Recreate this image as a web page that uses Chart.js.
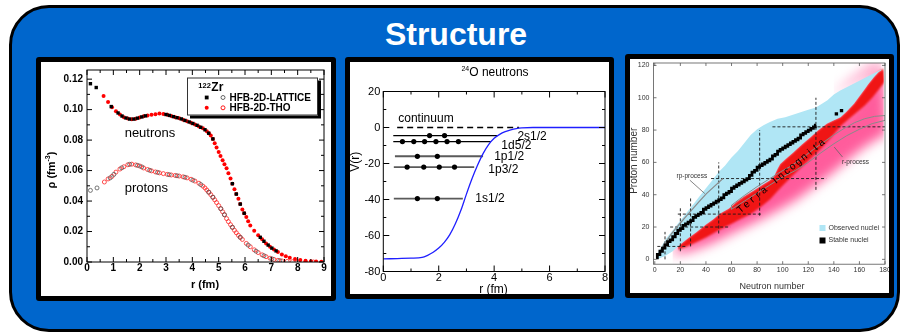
<!DOCTYPE html>
<html><head><meta charset="utf-8">
<script src="https://cdn.jsdelivr.net/npm/chart.js@4.4.1/dist/chart.umd.min.js"></script>
<style>
html,body{margin:0;padding:0;background:#fff;}
body{width:904px;height:334px;position:relative;overflow:hidden;font-family:'Liberation Sans',Arial,sans-serif;}
#slide{position:absolute;left:9px;top:5px;width:891px;height:327px;box-sizing:border-box;border:3px solid #000;border-radius:40px;background:#0066cc;}
#title{position:absolute;left:0;top:18px;width:912px;text-align:center;color:#fff;font:bold 32px/32px 'Liberation Sans',Arial,sans-serif;}
.panel{position:absolute;box-sizing:border-box;border:5px solid #000;background:#fff;border-radius:3px;}
.panel canvas{display:block;}
</style></head><body>
<div id="slide"></div>
<div id="title">Structure</div>
<div class="panel" style="left:36px;top:57px;width:300px;height:244px"><canvas id="c1" width="290" height="234"></canvas></div>
<div class="panel" style="left:345px;top:57px;width:269px;height:242px"><canvas id="c2" width="259" height="232"></canvas></div>
<div class="panel" style="left:625px;top:54px;width:269px;height:244px"><canvas id="c3" width="259" height="234"></canvas></div>
<script>
const FONT = "'Liberation Sans', Arial, Helvetica, sans-serif";
Chart.defaults.font.family = FONT;
Chart.defaults.color = '#000';
Chart.defaults.animation = false;
Chart.defaults.events = [];
Chart.defaults.plugins.legend.display = false;
Chart.defaults.plugins.tooltip.enabled = false;

// ================= Panel 1 : 122Zr densities =================
const P1_X_TICKS = [0,1,2,3,4,5,6,7,8,9];
const P1_X_LABELS = ['0','1','2','3','4','5','6','7','8','9'];
const P1_X_MINOR = [0.5,1.5,2.5,3.5,4.5,5.5,6.5,7.5,8.5];
const P1_Y_TICKS = [0,0.02,0.04,0.06,0.08,0.10,0.12];
const P1_Y_LABELS = ['0.00','0.02','0.04','0.06','0.08','0.10','0.12'];
const P1_Y_MINOR = [0.01,0.03,0.05,0.07,0.09,0.11];
const P1_LEGEND = ['HFB-2D-LATTICE','HFB-2D-THO'];

const NEUT_LATTICE = [[0.13,.1170],[0.35,.1145],[0.92,.1020],[1.18,.0978],[1.33,.0958],[1.48,.0945],[1.62,.0938],[1.78,.0938],[1.92,.0944],[2.08,.0952],[2.22,.0959],[3.00,.0968],[3.13,.0962],[3.28,.0954],[3.42,.0947],[3.58,.0939],[3.72,.0929],[3.88,.0919],[4.02,.0909],[4.18,.0897],[4.32,.0884],[4.48,.0868],[4.62,.0845],[4.78,.0808],[5.52,.0514],[5.67,.0446],[5.82,.0380],[5.97,.0320],[6.58,.0162],[6.72,.0136],[6.88,.0111],[7.02,.0091],[7.18,.0073]];
const NEUT_THO = [[0.63,.1090],[0.80,.1050],[0.95,.1015],[1.10,.0990],[1.25,.0968],[1.40,.0950],[1.55,.0941],[1.70,.0937],[1.85,.0940],[2.00,.0948],[2.15,.0956],[2.30,.0962],[2.45,.0966],[2.60,.0970],[2.75,.0974],[2.90,.0972],[3.05,.0966],[3.20,.0958],[3.35,.0950],[3.50,.0943],[3.65,.0934],[3.80,.0924],[3.95,.0914],[4.10,.0903],[4.25,.0890],[4.40,.0877],[4.55,.0858],[4.63,.0845],[4.70,.0830],[4.78,.0808],[4.85,.0780],[4.92,.0752],[5.00,.0722],[5.07,.0695],[5.15,.0668],[5.22,.0642],[5.30,.0615],[5.37,.0583],[5.45,.0548],[5.52,.0514],[5.60,.0478],[5.67,.0446],[5.75,.0415],[5.82,.0380],[5.90,.0345],[5.97,.0320],[6.05,.0295],[6.12,.0268],[6.20,.0240],[6.35,.0205],[6.50,.0175],[6.65,.0150],[6.80,.0122],[6.95,.0100],[7.10,.0082],[7.25,.0065],[7.40,.0050],[7.55,.0038],[7.70,.0028],[7.90,.0019],[8.10,.0013],[8.30,.0009],[8.50,.0005],[8.70,.0003],[8.90,.0002]];
const PROT_LATTICE = [[0.13,.0470],[0.38,.0486],[0.88,.0552],[1.02,.0575],[1.32,.0618],[1.62,.0641],[1.92,.0634],[2.08,.0624],[2.38,.0602],[2.68,.0588],[3.12,.0573],[3.42,.0566],[3.72,.0556],[4.02,.0537],[4.32,.0508],[4.62,.0458],[4.78,.0425],[5.08,.0350],[5.22,.0310],[5.52,.0228],[5.82,.0162],[6.12,.0111],[6.42,.0071],[6.72,.0041],[7.02,.0021],[7.32,.0009]];
const PROT_THO = [[0.66,.0525],[0.80,.0545],[0.95,.0562],[1.10,.0590],[1.25,.0610],[1.40,.0625],[1.55,.0638],[1.70,.0642],[1.85,.0637],[2.00,.0630],[2.15,.0617],[2.30,.0607],[2.45,.0598],[2.60,.0591],[2.75,.0585],[2.90,.0580],[3.05,.0575],[3.20,.0571],[3.35,.0568],[3.50,.0564],[3.65,.0559],[3.80,.0552],[3.95,.0543],[4.10,.0531],[4.25,.0517],[4.40,.0498],[4.48,.0486],[4.55,.0472],[4.63,.0458],[4.70,.0442],[4.78,.0425],[4.85,.0408],[4.92,.0390],[5.00,.0370],[5.08,.0350],[5.15,.0330],[5.22,.0310],[5.30,.0285],[5.37,.0265],[5.45,.0245],[5.52,.0228],[5.60,.0208],[5.67,.0192],[5.75,.0175],[5.82,.0162],[5.90,.0148],[6.05,.0122],[6.20,.0100],[6.35,.0080],[6.50,.0062],[6.65,.0047],[6.80,.0035],[6.95,.0025],[7.10,.0017],[7.25,.0011],[7.40,.0007],[7.60,.0004],[7.80,.0002],[8.00,.0001],[8.30,.0000],[8.60,.0000]];

// ================= Panel 2 : 24O neutrons =================
const P2_X_TICKS = [0,2,4,6,8];
const P2_X_LABELS = ['0','2','4','6','8'];
const P2_X_MINOR = [1,3,5,7];
const P2_Y_TICKS = [-80,-60,-40,-20,0,20];
const P2_Y_LABELS = ['-80','-60','-40','-20','0','20'];
const P2_Y_MINOR = [-70,-50,-30,-10,10];
const POT_R = [0,0.5,1.0,1.4,1.6,1.8,2.0,2.2,2.4,2.6,2.8,3.0,3.2,3.4,3.6,3.8,4.0,4.2,4.4,4.6,4.8,5.0,5.4,6,7,8];
const POT_V = [-73.0,-72.8,-72.6,-72.2,-71.0,-69.3,-67.0,-63.8,-59.5,-53.5,-46.0,-37.0,-28.5,-21.0,-14.5,-9.5,-6.0,-3.8,-2.3,-1.3,-0.6,-0.25,0,0,0,0];
const LEVEL_NAMES = ['2s1/2','1d5/2','1p1/2','1p3/2','1s1/2'];
const LEVEL_E = [-4.5,-7.8,-16,-22,-39.5];
const LEVEL_R0 = [0.36,0.36,0.42,0.38,0.38];
const LEVEL_R1 = [4.12,3.88,3.6,3.28,2.87];
const LEVEL_DOTS = [[1.67,2.21],[0.69,1.1,1.49,1.9,2.3,2.71],[1.23,1.95],[0.86,1.46,2.02,2.57],[1.23,1.95]];
const CONTINUUM_E = 0;
const CONTINUUM_R = [0.5,4.9];

// ================= Panel 3 : chart of nuclides =================
const P3_X_TICKS = [0,20,40,60,80,100,120,140,160,180];
const P3_X_LABELS = ['0','20','40','60','80','100','120','140','160','180'];
const P3_Y_TICKS = [0,20,40,60,80,100,120];
const P3_Y_LABELS = ['0','20','40','60','80','100','120'];
const OBS_UPPER = [[0,0],[3,5],[9,13],[14,18],[20,24],[25,29],[30,34],[35,39],[40,44],[45,49],[50,54],[55,58],[60,63],[65,67],[70,72],[75,77],[80,80.5],[85,83],[90,85],[96,87],[102,88],[108,89.5],[114,91],[120,92.5],[126,94],[131,96.5],[135,98.5],[140,102],[145,104.5],[150,106.5],[155,108.5],[160,110.5],[166,113],[171,115],[177,117.5]];
const OBS_LOWER = [[2,0],[8,2],[14,5],[19.6,9],[26,13],[32.7,17],[40,21.5],[46,25],[51,28.4],[58,31.5],[64,35.6],[70,39],[77,42.5],[84,46],[90,49],[93,51],[96,56],[98,59],[103,62.5],[108,66],[115,71],[121.7,75.5],[128,80],[134.7,84],[140,86],[145.2,88],[150,91.5],[155.7,96.3],[160,101],[163.5,104.6],[167,108.5],[171.4,112.8],[175,116],[179,118]];
const RED_EDGE = [[18,6],[25,8],[32,10.5],[40,13.5],[51,18.5],[60,22],[67,25],[75,28],[82,32],[90,37],[98,44],[106,50.5],[114,56.5],[122,62.5],[130,68.5],[138,75.5],[146,83],[152,87],[158,91],[164,95],[170,100],[175,105],[180,110]];
const PINK_EDGE = [[14,3],[20,3.5],[30,5.5],[45,10],[59,15.5],[72,20.5],[85,25.5],[98,31],[111,37],[123,44],[135,51],[145,57.5],[155,64],[165,70],[175,75],[182,78]];
const PINK_TIP = [[140,103],[146,107],[152,111],[158,114.5],[164,118],[169,121.5],[178,121.5]];
const STABLE = [[1,1],[3,3],[5,5],[7,7],[9,9],[11,11],[13,12],[15,14],[17,16],[19,18],[21,19],[23,21],[25,22],[27,23],[29,24],[31,26],[33,27],[35,28],[37,29],[39,31],[41,32],[43,33],[45,34],[47,35],[49,36],[51,37],[53,38],[55,40],[57,41],[59,42],[61,44],[63,45],[65,46],[67,47],[69,48],[71,49],[73,50],[75,52],[77,54],[79,55],[81,57],[83,58],[85,59],[87,60],[89,61],[91,62],[93,64],[95,65],[97,67],[99,68],[101,69],[103,70],[105,71],[107,72],[109,73],[111,74],[113,75],[115,77],[117,78],[119,79],[121,80],[123,81],[125,82],[126,83]];
const STABLE_HEAVY = [[142,90],[146,92]];
const RP_PATH = [[4,5],[8,10],[13.2,16],[20,22.5],[25,27],[30,31.5],[35,36],[40.4,40.7],[47,45.5],[53.3,50]];
const RP_LEADER = [[27.4,49],[39.1,40.7]];
const R_PATH = [[60,31],[70,36],[80,41],[90,46],[100,51],[110,55],[120,60],[130,66],[140,71.5],[150,76.5],[160,80.5],[170,84],[180,86],[180,89],[172,88.5],[164,87],[156,84.5],[148,81],[140,77],[132,72.5],[124,68],[115,62.5],[106,57.5],[98,54],[90,50],[80,45],[70,39.5],[60,33.5],[60,31]];
const R_LEADER = [[140.3,69.5],[146.8,63.3]];
const MAGIC_LINES = [[[2,8],[24,8]],[[8,0],[8,17]],[[12,20],[59,20]],[[20,5],[20,32]],[[18,28],[84,28]],[[28,8],[28,38]],[[44,50],[134,50]],[[50,16],[50,60]],[[82,27],[82,80]],[[92,82],[180,82]],[[126,43],[126,100]]];
const P3_LEGEND = ['Observed nuclei','Stable nuclei'];

// ================= helpers =================
const pts = arr => arr.map(p => ({x: p[0], y: p[1]}));
const zip = (a, b) => a.map((v, i) => [v, b[i]]);
const TRANSP = 'rgba(0,0,0,0)';

function mkAxis(o) {
  return {
    type: 'linear', min: o.min, max: o.max,
    afterBuildTicks: s => { s.ticks = o.ticks.map(v => ({value: v})); },
    afterFit: s => {
      if (o.horizontal) s.height = o.size; else s.width = o.size;
      s.paddingLeft = 0; s.paddingRight = 0; s.paddingTop = 0; s.paddingBottom = 0;
    },
    grid: {display: false, drawTicks: false},
    border: {display: false},
    title: {display: false},
    ticks: {autoSkip: false, maxRotation: 0, minRotation: 0, padding: o.padding,
            font: o.font, color: o.color || '#000', callback: (v, i) => o.labels[i]}
  };
}

function framePlugin(c) {
  return {
    id: 'frameTicks',
    afterDatasetsDraw(chart) {
      const {ctx, chartArea: a, scales: {x, y}} = chart;
      ctx.save();
      ctx.strokeStyle = c.color; ctx.lineWidth = c.width;
      ctx.beginPath();
      const xs = (vals, len) => vals.forEach(v => {
        const p = x.getPixelForValue(v);
        ctx.moveTo(p, a.bottom); ctx.lineTo(p, a.bottom - len);
        ctx.moveTo(p, a.top); ctx.lineTo(p, a.top + len);
      });
      const ys = (vals, len) => vals.forEach(v => {
        const p = y.getPixelForValue(v);
        ctx.moveTo(a.left, p); ctx.lineTo(a.left + len, p);
        ctx.moveTo(a.right, p); ctx.lineTo(a.right - len, p);
      });
      xs(c.xMajor, c.major); xs(c.xMinor || [], c.minor);
      ys(c.yMajor, c.major); ys(c.yMinor || [], c.minor);
      ctx.stroke();
      ctx.strokeRect(a.left, a.top, a.right - a.left, a.bottom - a.top);
      ctx.restore();
    }
  };
}

function rich(ctx, parts, cx, cy, rot) {
  ctx.save();
  ctx.translate(cx, cy); ctx.rotate(rot || 0);
  let w = 0;
  parts.forEach(p => { ctx.font = p.f; p.w = ctx.measureText(p.t).width; w += p.w; });
  let xx = -w / 2;
  ctx.textAlign = 'left'; ctx.textBaseline = 'alphabetic';
  parts.forEach(p => { ctx.font = p.f; ctx.fillText(p.t, xx, p.dy || 0); xx += p.w; });
  ctx.restore();
}

// ================= Chart 1 =================
const p1Text = {
  id: 'p1Text',
  afterDatasetsDraw(chart) {
    const {ctx, scales: {x, y}} = chart;
    ctx.save();
    ctx.fillStyle = '#000';
    ctx.font = `13px ${FONT}`; ctx.textAlign = 'left'; ctx.textBaseline = 'middle';
    ctx.fillText('neutrons', x.getPixelForValue(1.43), y.getPixelForValue(0.0844));
    ctx.fillText('protons', x.getPixelForValue(1.43), y.getPixelForValue(0.0482));
    ctx.font = `bold 11px ${FONT}`; ctx.textAlign = 'center';
    ctx.fillText('r (fm)', 164, 223);
    rich(ctx, [{t: '\u03c1 (fm', f: `bold 11px ${FONT}`}, {t: '-3', f: `bold 7px ${FONT}`, dy: -4.5}, {t: ')', f: `bold 11px ${FONT}`}], 13.6, 108, -Math.PI / 2);
    const L = {x: 146, y: 15.5, w: 131, h: 38};
    ctx.fillStyle = '#000'; ctx.fillRect(L.x + 3, L.y + 3, L.w, L.h);
    ctx.fillStyle = '#fff'; ctx.fillRect(L.x, L.y, L.w, L.h);
    ctx.strokeStyle = '#333'; ctx.lineWidth = 1; ctx.strokeRect(L.x + 0.5, L.y + 0.5, L.w - 1, L.h - 1);
    ctx.fillStyle = '#000'; ctx.textAlign = 'left'; ctx.textBaseline = 'alphabetic';
    ctx.font = `bold 7.5px ${FONT}`; ctx.fillText('122', 157.3, 26.3);
    const w122 = ctx.measureText('122').width;
    ctx.font = `bold 12px ${FONT}`; ctx.fillText('Zr', 157.3 + w122 + 0.5, 29);
    const rows = [{y: 35.5, fill: '#000', rect: true, open: '#555'}, {y: 45.8, fill: '#f00', rect: false, open: '#f00'}];
    rows.forEach((r, i) => {
      ctx.fillStyle = r.fill;
      if (r.rect) ctx.fillRect(163.8, r.y - 1.9, 3.8, 3.8);
      else { ctx.beginPath(); ctx.arc(165.7, r.y, 2, 0, Math.PI * 2); ctx.fill(); }
      ctx.strokeStyle = r.open; ctx.lineWidth = 0.9;
      ctx.beginPath(); ctx.arc(182, r.y, 2, 0, Math.PI * 2); ctx.stroke();
      ctx.fillStyle = '#000'; ctx.font = `bold 10px ${FONT}`; ctx.textBaseline = 'middle';
      ctx.fillText(P1_LEGEND[i], 188.5, r.y + 0.5);
    });
    ctx.restore();
  }
};

new Chart(document.getElementById('c1'), {
  type: 'line',
  data: {datasets: [
    {data: pts(NEUT_LATTICE), showLine: false, pointStyle: 'rect', pointRadius: 2.4, pointBackgroundColor: '#000', pointBorderColor: '#000', pointBorderWidth: 0, order: 1},
    {data: pts(PROT_LATTICE), showLine: false, pointStyle: 'circle', pointRadius: 2, pointBackgroundColor: TRANSP, pointBorderColor: '#555', pointBorderWidth: 0.8, order: 2},
    {data: pts(NEUT_THO), showLine: false, pointStyle: 'circle', pointRadius: 2, pointBackgroundColor: '#f00', pointBorderColor: '#f00', pointBorderWidth: 0, order: 3},
    {data: pts(PROT_THO), showLine: false, pointStyle: 'circle', pointRadius: 2, pointBackgroundColor: TRANSP, pointBorderColor: '#f22', pointBorderWidth: 0.8, order: 4}
  ]},
  options: {
    responsive: false, maintainAspectRatio: false,
    layout: {padding: {left: 0, top: 8, right: 7, bottom: 0}},
    scales: {
      x: mkAxis({min: 0, max: 9, ticks: P1_X_TICKS, labels: P1_X_LABELS, horizontal: true, size: 34, padding: 0, font: {size: 10, weight: 'bold'}}),
      y: mkAxis({min: 0, max: 0.126, ticks: P1_Y_TICKS, labels: P1_Y_LABELS, size: 46, padding: 4, font: {size: 10, weight: 'bold'}})
    }
  },
  plugins: [framePlugin({color: '#000', width: 1, major: 5, minor: 3, xMajor: P1_X_TICKS, xMinor: P1_X_MINOR, yMajor: P1_Y_TICKS, yMinor: P1_Y_MINOR}), p1Text]
});

// ================= Chart 2 =================
const ds2 = [];
ds2.push({data: pts(zip(POT_R, POT_V)), borderColor: '#1f1fff', borderWidth: 1.3, pointRadius: 0, cubicInterpolationMode: 'monotone', order: 1});
ds2.push({data: pts([[CONTINUUM_R[0], CONTINUUM_E], [CONTINUUM_R[1], CONTINUUM_E]]), borderColor: '#000', borderWidth: 1.3, borderDash: [6, 4], pointRadius: 0, order: 2});
LEVEL_E.forEach((e, i) => {
  const dark = i < 2;
  ds2.push({data: pts([[LEVEL_R0[i], e], [LEVEL_R1[i], e]]), borderColor: dark ? '#000' : '#5a5a5a', borderWidth: dark ? 1.3 : 1.9, pointRadius: 0, order: 3});
  ds2.push({data: pts(LEVEL_DOTS[i].map(r => [r, e])), showLine: false, pointRadius: 2.6, pointBackgroundColor: '#000', pointBorderColor: '#000', pointBorderWidth: 0, order: 2});
});
const LABEL_AT = [[4.84,-4.9],[4.26,-9.9],[4.0,-16],[3.79,-23.7],[3.32,-39.8]];
const p2Text = {
  id: 'p2Text',
  afterDatasetsDraw(chart) {
    const {ctx, scales: {x, y}} = chart;
    ctx.save();
    ctx.fillStyle = '#000';
    ctx.font = `12px ${FONT}`; ctx.textAlign = 'left'; ctx.textBaseline = 'middle';
    LEVEL_NAMES.forEach((n, i) => ctx.fillText(n, x.getPixelForValue(LABEL_AT[i][0]), y.getPixelForValue(LABEL_AT[i][1])));
    ctx.fillText('continuum', x.getPixelForValue(0.54), y.getPixelForValue(4.9));
    ctx.textAlign = 'center';
    ctx.fillText('r (fm)', 143.5, 228);
    rich(ctx, [{t: 'V(r)', f: `12px ${FONT}`}], 9.3, 99.7, -Math.PI / 2);
    rich(ctx, [{t: '24', f: `7px ${FONT}`, dy: -4.5}, {t: 'O neutrons', f: `12px ${FONT}`}], 145, 13.5, 0);
    ctx.restore();
  }
};
new Chart(document.getElementById('c2'), {
  type: 'line',
  data: {datasets: ds2},
  options: {
    responsive: false, maintainAspectRatio: false,
    layout: {padding: {left: 0, top: 29.5, right: 2.3, bottom: 0}},
    scales: {
      x: mkAxis({min: 0, max: 8, ticks: P2_X_TICKS, labels: P2_X_LABELS, horizontal: true, size: 22.5, padding: 0, font: {size: 11}}),
      y: mkAxis({min: -80, max: 20, ticks: P2_Y_TICKS, labels: P2_Y_LABELS, size: 33.3, padding: 3, font: {size: 11}})
    }
  },
  plugins: [framePlugin({color: '#000', width: 1, major: 6, minor: 3, xMajor: P2_X_TICKS, xMinor: P2_X_MINOR, yMajor: P2_Y_TICKS, yMinor: P2_Y_MINOR}), p2Text]
});

// ================= Chart 3 =================
const lineDs = (data, color, width, extra) => Object.assign({data: pts(data), showLine: true, borderColor: color, borderWidth: width, pointRadius: 0, fill: false, tension: 0, order: 2}, extra || {});
const ds3 = [];
ds3.push(lineDs(STABLE, '#000', 2.8, {stepped: 'middle', order: 1}));
ds3.push({data: pts(STABLE_HEAVY), showLine: false, pointStyle: 'rect', pointRadius: 2.4, pointBackgroundColor: '#000', pointBorderColor: '#000', pointBorderWidth: 0, order: 1});
ds3.push(lineDs(RP_PATH, '#8a8a8a', 1.2));
ds3.push(lineDs(RP_LEADER, '#666', 0.8));
ds3.push(lineDs(R_PATH, '#8a8a8a', 1));
ds3.push(lineDs(R_LEADER, '#666', 0.8));
MAGIC_LINES.forEach(l => ds3.push(lineDs(l, '#1a1a1a', 0.9, {borderDash: [3, 2], order: 3})));
const iBlueLower = ds3.length; ds3.push(lineDs(OBS_LOWER, TRANSP, 0, {order: 5}));
const iBlueUpper = ds3.length; ds3.push(lineDs(OBS_UPPER, TRANSP, 0, {order: 5, fill: iBlueLower, backgroundColor: '#b0e6f5'}));
const iRed = ds3.length; ds3.push(lineDs(RED_EDGE, TRANSP, 0, {order: 8, fill: iBlueLower, backgroundColor: '#f01515'}));
const iPink = ds3.length; ds3.push(lineDs(PINK_EDGE, TRANSP, 0, {order: 10, fill: iBlueLower, backgroundColor: '#ff5c9c'}));
const iPinkTip = ds3.length; ds3.push(lineDs(PINK_TIP, TRANSP, 0, {order: 10, fill: iBlueUpper, backgroundColor: '#ff9cc4'}));

const soften = {
  id: 'soften',
  beforeDatasetsDraw(chart) { chart.ctx.save(); chart.ctx.filter = 'blur(6px)'; },
  afterDatasetDraw(chart, args) {
    if (args.index === iPink) chart.ctx.filter = 'blur(1.2px)';
    if (args.index === iRed) chart.ctx.restore();
  }
};
const p3Text = {
  id: 'p3Text',
  afterDatasetsDraw(chart) {
    const {ctx, chartArea: a, scales: {x, y}} = chart;
    ctx.save();
    ctx.fillStyle = '#333';
    ctx.font = `6.5px ${FONT}`; ctx.textAlign = 'left'; ctx.textBaseline = 'middle';
    ctx.fillText('rp-process', x.getPixelForValue(17), y.getPixelForValue(51.4));
    ctx.fillText('r-process', x.getPixelForValue(146.4), y.getPixelForValue(59.9));
    const sx = x.getPixelForValue(65), sy = y.getPixelForValue(29.4);
    const ex = x.getPixelForValue(132.5), ey = y.getPixelForValue(73.6);
    const ang = Math.atan2(ey - sy, ex - sx);
    const txt = 'Terra Incognita';
    ctx.font = `10px ${FONT}`; ctx.fillStyle = '#000'; ctx.textAlign = 'center';
    for (let i = 0; i < txt.length; i++) {
      const t = (i + 0.5) / txt.length;
      ctx.save(); ctx.translate(sx + (ex - sx) * t, sy + (ey - sy) * t); ctx.rotate(ang);
      ctx.fillText(txt[i], 0, 0); ctx.restore();
    }
    const lx = a.left + 166, ly = a.top + 165;
    ctx.fillStyle = '#b0e6f5'; ctx.fillRect(lx, ly - 3, 6, 6);
    ctx.fillStyle = '#000'; ctx.fillRect(lx, ly + 9.5, 6, 6);
    ctx.fillStyle = '#333'; ctx.font = `7px ${FONT}`; ctx.textAlign = 'left';
    ctx.fillText(P3_LEGEND[0], lx + 9, ly);
    ctx.fillText(P3_LEGEND[1], lx + 9, ly + 12.5);
    ctx.textAlign = 'center';
    ctx.font = `9px ${FONT}`;
    ctx.fillText('Neutron number', 142, 227.7);
    ctx.save(); ctx.translate(4.5, 101.8); ctx.rotate(-Math.PI / 2); ctx.font = `10px ${FONT}`;
    ctx.fillText('Proton number', 0, 0); ctx.restore();
    ctx.restore();
  }
};
new Chart(document.getElementById('c3'), {
  type: 'line',
  data: {datasets: ds3},
  options: {
    responsive: false, maintainAspectRatio: false,
    layout: {padding: {left: 0, top: 3.6, right: 3, bottom: 0}},
    scales: {
      x: mkAxis({min: -1, max: 180, ticks: P3_X_TICKS, labels: P3_X_LABELS, horizontal: true, size: 28.8, padding: 1.6, font: {size: 7}, color: '#333'}),
      y: mkAxis({min: -3, max: 121.5, ticks: P3_Y_TICKS, labels: P3_Y_LABELS, size: 23.5, padding: 4, font: {size: 7}, color: '#333'})
    }
  },
  plugins: [soften, framePlugin({color: '#555', width: 0.8, major: 3, minor: 2, xMajor: P3_X_TICKS, yMajor: P3_Y_TICKS}), p3Text]
});
</script>
</body></html>
